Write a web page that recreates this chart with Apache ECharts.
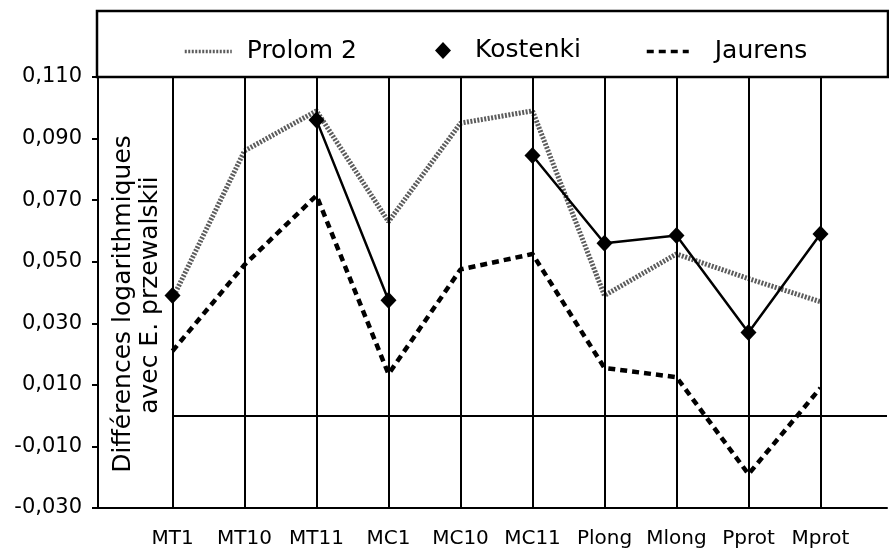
<!DOCTYPE html>
<html>
<head>
<meta charset="utf-8">
<script src="https://cdn.jsdelivr.net/npm/echarts@6/dist/echarts.min.js"></script>
<style>
html,body{margin:0;padding:0;background:#fff;}
#chart{width:889px;height:549px;}
</style>
</head>
<body>
<div id="chart"></div>
<script>
// ---- data ----
const categories = ['MT1','MT10','MT11','MC1','MC10','MC11','Plong','Mlong','Pprot','Mprot'];
const prolom   = [0.038, 0.086, 0.099, 0.063, 0.095, 0.099, 0.039, 0.0525, 0.0445, 0.037];
const kostenki = [0.039, null, 0.096, 0.0375, null, 0.0845, 0.056, 0.0585, 0.027, 0.059];
const jaurens  = [0.021, 0.049, 0.0715, 0.0135, 0.0475, 0.0525, 0.0155, 0.0125, -0.019, 0.009];
const yTicks   = [-0.03, -0.01, 0.01, 0.03, 0.05, 0.07, 0.09, 0.11];
const yNameLines = ['Différences logarithmiques', 'avec E. przewalskii'];

const X_MIN = -1.035, X_MAX = 9.924;
const FONT = '"DejaVu Sans", sans-serif';

function pairs(arr){ return arr.map((v,i)=>[i, v === null ? '-' : v]); }

const chart = echarts.init(document.getElementById('chart'), null, {renderer:'canvas'});

const option = {
  backgroundColor: '#fff',
  animation: false,
  grid: {left: 98, right: 2, top: 77, bottom: 40, containLabel: false},
  xAxis: {
    type: 'value', min: X_MIN, max: X_MAX,
    axisLine: {show: true, onZero: false, lineStyle: {color: '#000', width: 2}},
    axisTick: {show: false},
    splitLine: {show: false},
    axisLabel: {
      customValues: categories.map((c,i)=>i),
      formatter: v => categories[Math.round(v)],
      fontFamily: FONT, fontSize: 20, color: '#000', margin: 21
    }
  },
  yAxis: {
    type: 'value', min: -0.03, max: 0.11,
    axisLine: {show: true, onZero: false, lineStyle: {color: '#000', width: 2}},
    axisTick: {show: true, customValues: yTicks, length: 6, lineStyle: {color: '#000', width: 2}},
    splitLine: {show: false},
    axisLabel: {
      customValues: yTicks,
      formatter: v => v.toFixed(3).replace('.', ','),
      fontFamily: FONT, fontSize: 21, color: '#000', margin: 16
    }
  },
  legend: [
    {data: ['Prolom 2'], left: 178, top: 34, itemWidth: 47, itemHeight: 14, selectedMode: false,
     itemStyle: {opacity: 0}, lineStyle: {width: 3.5},
     textStyle: {fontFamily: FONT, fontSize: 25, color: '#000', padding: [0,0,0,10]}},
    {data: [{name: 'Kostenki', icon: 'diamond'}], left: 430, top: 33, itemWidth: 16, itemHeight: 17, selectedMode: false,
     textStyle: {fontFamily: FONT, fontSize: 25, color: '#000', padding: [0,0,0,19]}},
    {data: ['Jaurens'], left: 640, top: 34, itemWidth: 42, itemHeight: 14, selectedMode: false,
     itemStyle: {opacity: 0}, lineStyle: {width: 3.5},
     textStyle: {fontFamily: FONT, fontSize: 25, color: '#000', padding: [0,0,0,21]}}
  ],
  graphic: [
    {type: 'rect', shape: {x: 97, y: 11, width: 791, height: 66}, style: {fill: 'none', stroke: '#000', lineWidth: 2.5}, z: 10},
    {type: 'text', x: 123, y: 304, rotation: Math.PI/2,
     style: {text: yNameLines[0], font: '25px "DejaVu Sans", sans-serif', fill: '#000', textAlign: 'center', textVerticalAlign: 'middle'}},
    {type: 'text', x: 150, y: 295, rotation: Math.PI/2,
     style: {text: yNameLines[1], font: '25px "DejaVu Sans", sans-serif', fill: '#000', textAlign: 'center', textVerticalAlign: 'middle'}}
  ],
  series: [
    {
      name: 'grid', type: 'line', data: [], z: 1, silent: true,
      markLine: {
        silent: true, symbol: ['none','none'], label: {show: false}, animation: false,
        lineStyle: {color: '#000', type: 'solid', width: 2},
        data: categories.map((c,i)=>({xAxis: i})).concat([[{xAxis: 0, yAxis: 0}, {xAxis: X_MAX, yAxis: 0}]])
      }
    },
    {
      name: 'Prolom 2', type: 'line', data: pairs(prolom), symbol: 'none', z: 3,
      lineStyle: {color: '#5c5c5c', width: 5, type: [2, 1.5]},
      itemStyle: {color: '#5c5c5c'}
    },
    {
      name: 'Jaurens', type: 'line', data: pairs(jaurens), symbol: 'none', z: 4,
      lineStyle: {color: '#000', width: 4.5, type: [7, 5]},
      itemStyle: {color: '#000'}
    },
    {
      name: 'Kostenki', type: 'line', data: pairs(kostenki), connectNulls: false, z: 5,
      symbol: 'diamond', symbolSize: [16, 17], showSymbol: true,
      lineStyle: {color: '#000', width: 2.5},
      itemStyle: {color: '#000'}
    }
  ]
};
chart.setOption(option);
</script>
</body>
</html>
